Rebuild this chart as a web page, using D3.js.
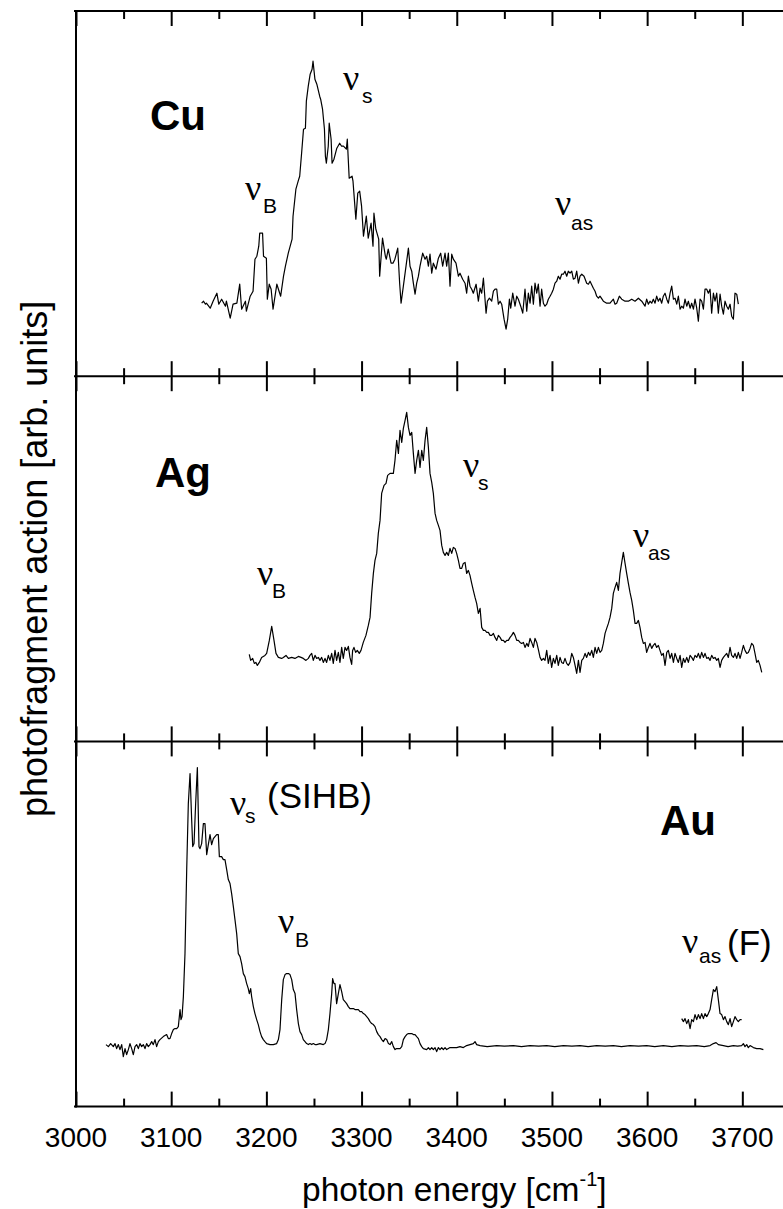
<!DOCTYPE html>
<html>
<head>
<meta charset="utf-8">
<script src="https://cdn.jsdelivr.net/npm/d3@7"></script>
<style>
  html, body { margin: 0; padding: 0; background: #fff; }
  svg { display: block; }
  text { font-family: "Liberation Sans", Arial, Helvetica, sans-serif; fill: #000; }
  .nu { font-family: "Liberation Serif", "Times New Roman", serif; }
</style>
</head>
<body>
<svg id="chart" width="783" height="1209"></svg>
<script>
// ---- data -------------------------------------------------------------
const tickLabels = [3000, 3100, 3200, 3300, 3400, 3500, 3600, 3700];
const panelNames = ["Cu", "Ag", "Au"];

// [photon energy (cm^-1), photofragment action (arb. units)]
const cuSpectrum = [
  [3132,7.3],[3134,7.5],[3136,7.2],[3137,7.3],[3141,6.8],[3144,7.5],[3148,8.3],[3150,7.2],[3153,7.7],[3157,7.0],
  [3158,7.5],[3162,5.8],[3165,7.2],[3169,7.3],[3172,9.2],[3174,6.7],[3178,7.5],[3179,6.5],[3183,8.0],[3186,8.5],
  [3188,11.7],[3190,12.0],[3192,13.0],[3193,14.3],[3196,14.3],[3197,12.0],[3200,11.8],[3201,7.7],[3203,9.2],[3205,8.7],
  [3207,6.7],[3211,9.2],[3214,8.3],[3215,8.0],[3218,10.0],[3220,11.0],[3223,12.3],[3227,13.7],[3228,16.0],[3231,18.7],
  [3234,19.7],[3235,20.0],[3237,22.3],[3239,24.7],[3241,24.8],[3242,27.5],[3244,29.0],[3246,30.2],[3248,30.7],[3249,31.5],
  [3251,29.7],[3253,29.2],[3256,28.0],[3257,27.7],[3259,26.7],[3261,24.7],[3262,22.0],[3263,21.3],[3265,23.0],[3266,25.3],
  [3268,23.7],[3269,21.3],[3271,21.7],[3274,22.8],[3277,23.3],[3279,23.0],[3281,23.0],[3284,22.7],[3285,23.7],[3287,19.8],
  [3290,20.0],[3291,19.5],[3294,15.7],[3296,18.3],[3298,18.5],[3300,17.0],[3302,14.0],[3305,16.0],[3307,13.8],[3310,15.3],
  [3312,13.0],[3313,16.3],[3315,14.7],[3318,13.7],[3319,10.0],[3322,13.8],[3325,12.0],[3326,11.7],[3328,12.7],[3331,11.3],
  [3333,11.3],[3335,11.7],[3338,12.8],[3340,9.3],[3341.5,7.3],[3343.9,9.0],[3346.7,11.0],[3349.2,12.8],[3350.9,11.0],[3352.7,10.5],
  [3354.4,9.3],[3356.2,8.2],[3357.9,9.3],[3359.7,10.0],[3361.4,11.0],[3364.2,12.3],[3366.7,11.7],[3368.4,12.0],[3370.2,11.0],[3371.9,12.2],
  [3373.7,10.3],[3375.4,11.3],[3378.2,10.7],[3380.7,11.8],[3383.1,12.3],[3385.2,11.0],[3387.7,12.3],[3389.4,11.0],[3391.2,12.3],[3392.9,9.0],
  [3394.7,12.2],[3396.4,11.7],[3399.2,11.3],[3401.7,10.0],[3403.4,10.3],[3406.2,9.7],[3408.7,9.3],[3410.4,8.3],[3412.2,10.0],[3413.9,9.0],
  [3415.7,8.7],[3417.4,8.3],[3420.3,9.2],[3422.7,7.5],[3424.5,8.8],[3426.2,8.3],[3428.0,9.8],[3430.8,6.3],[3432.2,7.5],[3434.3,7.8],
  [3436.7,7.5],[3438.5,8.5],[3440.2,8.7],[3442.0,8.7],[3443.7,7.2],[3445.5,7.5],[3447.2,7.2],[3449.7,5.7],[3451.8,4.7],[3453.5,5.7],
  [3455.3,7.7],[3456.7,6.8],[3458.8,8.3],[3461.2,7.0],[3463.0,8.0],[3464.7,7.7],[3467.2,7.0],[3469.3,6.3],[3471.7,8.7],[3473.5,6.5],
  [3475.2,8.3],[3477.0,7.3],[3478.7,9.0],[3480.5,7.2],[3482.2,9.3],[3484.0,8.3],[3485.7,9.2],[3487.5,7.0],[3489.2,8.7],[3491.0,7.3],
  [3492.7,7.0],[3494.5,7.2],[3496.2,7.7],[3498.0,8.0],[3499.7,8.3],[3501.5,8.7],[3503.2,9.3],[3505.0,9.5],[3506.7,10.0],[3508.5,9.7],
  [3510.2,10.2],[3512.0,10.2],[3513.7,10.5],[3515.5,10.0],[3517.2,10.5],[3519.0,10.3],[3520.8,10.5],[3522.5,9.7],[3524.3,9.8],[3526.0,10.5],
  [3527.8,9.3],[3529.5,10.0],[3531.3,10.2],[3533.7,10.0],[3536.5,9.3],[3538.3,9.2],[3540.0,9.5],[3543.5,8.8],[3545.3,8.5],[3547.0,8.0],
  [3548.8,7.8],[3550.5,8.0],[3554.0,7.5],[3557.5,7.3],[3561.0,7.3],[3564.5,7.7],[3566.3,7.2],[3568.0,7.3],[3570.8,8.0],[3573.3,7.7],
  [3576.8,7.5],[3580.3,7.5],[3583.8,7.7],[3587.3,7.5],[3590.8,7.8],[3594.3,7.5],[3597.8,7.0],[3599.5,7.7],[3601.3,7.2],[3603.0,7.5],
  [3604.8,7.3],[3606.5,7.7],[3608.3,7.3],[3610.0,8.0],[3611.8,7.5],[3613.5,7.8],[3615.3,7.3],[3617.0,8.0],[3618.8,8.3],[3620.6,7.7],
  [3622.3,7.3],[3624.1,8.3],[3625.8,9.0],[3627.6,7.7],[3629.3,7.8],[3631.1,7.2],[3632.8,8.0],[3634.6,6.7],[3636.3,7.0],[3638.1,6.8],
  [3639.8,7.7],[3641.6,7.0],[3643.3,7.5],[3645.1,6.8],[3646.8,7.3],[3648.6,6.7],[3650.3,7.7],[3652.1,6.8],[3653.8,5.5],[3655.6,7.7],
  [3657.3,7.5],[3659.1,6.7],[3660.8,8.7],[3662.6,8.7],[3664.3,8.3],[3666.1,8.7],[3667.8,6.3],[3669.6,8.3],[3671.3,7.5],[3673.1,8.3],
  [3674.8,6.3],[3676.6,8.2],[3678.3,7.0],[3680.1,6.2],[3681.8,7.5],[3683.6,7.0],[3685.3,6.7],[3687.1,7.2],[3688.8,6.0],[3690.6,5.7],
  [3692.3,8.3],[3694.1,8.2],[3695.8,7.2]
];

const agSpectrum = [
  [3182,8.7],[3183.5,8.1],[3185.6,8.3],[3187.3,7.8],[3189,7.9],[3190.5,7.6],[3192.6,7.9],[3195,8.4],[3198.5,8.6],[3200.3,8.8],
  [3203.1,10.1],[3205.6,11.5],[3208,10.1],[3210.1,8.8],[3212.6,8.4],[3216,8.3],[3217.8,8.4],[3220.6,8.6],[3223.1,8.3],[3226.6,8.4],
  [3230,8.3],[3233.6,8.5],[3236.4,8.4],[3238.8,8.3],[3241.6,8.1],[3244.1,8.3],[3245.8,8.6],[3247.6,8.8],[3249.3,8.1],[3251.1,8.6],
  [3252.8,8.3],[3254.6,8.4],[3256.3,8.1],[3258.1,8.4],[3259.8,7.9],[3261.6,8.3],[3263.3,7.9],[3265.1,8.6],[3266.8,8.1],[3268.6,8.8],
  [3270.3,7.8],[3272.1,9.1],[3273.8,8.1],[3275.6,8.9],[3277.3,7.9],[3279.1,9.4],[3280.8,8.3],[3282.6,9.4],[3284.3,9.1],[3286.1,9.5],
  [3287.8,8.4],[3289.6,7.7],[3290.6,9.1],[3292,9.4],[3293.8,8.9],[3295.5,9.1],[3297.6,8.8],[3299.4,9.1],[3301.8,9.9],[3304.6,10.6],
  [3307.1,11.6],[3308.9,12.4],[3310.6,14.8],[3312.4,16.8],[3314.1,18.1],[3315.9,18.8],[3317.6,20.8],[3319.4,22.1],[3321.1,24.8],[3323.6,25.6],
  [3325.7,25.8],[3327.4,26.6],[3329.9,26.8],[3333.4,26.8],[3335.1,28.1],[3336.9,30.1],[3338.7,28.8],[3340.4,31.1],[3342.2,29.9],[3343.9,31.3],
  [3345.7,32.1],[3347.4,32.9],[3349.2,31.4],[3350.9,30.6],[3352.7,30.9],[3354.4,28.8],[3356.2,26.8],[3357.9,28.1],[3359.7,29.1],[3361.4,27.4],
  [3363.2,29.1],[3364.9,28.1],[3366.7,30.1],[3368.4,31.4],[3370.2,29.4],[3371.9,26.8],[3373.7,25.9],[3375.4,24.8],[3377.2,22.8],[3378.9,22.1],
  [3380.7,21.6],[3382.4,21.1],[3384.2,19.6],[3385.9,18.9],[3387.7,18.6],[3389.4,18.9],[3391.2,18.6],[3392.9,19.3],[3394.7,18.8],[3396.4,19.4],
  [3398.2,19.3],[3399.9,18.8],[3401.7,18.1],[3403.4,17.3],[3405.2,17.3],[3406.9,17.8],[3408.7,17.9],[3410.4,16.8],[3412.2,17.1],[3413.9,16.6],
  [3415.7,15.8],[3417.4,15.1],[3419.2,14.4],[3420.9,13.8],[3422.7,12.8],[3424.5,13.3],[3426.2,11.4],[3428.0,11.1],[3429.7,11.1],[3431.5,10.9],
  [3433.2,10.9],[3435.0,10.6],[3436.7,10.6],[3438.5,10.8],[3440.2,10.4],[3442.0,10.1],[3443.7,10.6],[3445.5,10.4],[3447.2,10.1],[3449.0,10.1],
  [3450.7,9.9],[3452.5,10.1],[3454.2,10.1],[3456.0,10.4],[3457.7,10.6],[3459.5,10.9],[3461.2,10.6],[3463.0,10.1],[3464.7,10.1],[3466.5,9.9],
  [3468.2,9.8],[3470.0,9.9],[3471.7,9.4],[3473.5,9.8],[3475.2,9.5],[3477.0,10.3],[3478.7,9.9],[3480.5,9.4],[3482.2,10.3],[3484.0,9.9],
  [3485.7,9.2],[3487.5,8.4],[3489.2,8.1],[3491.0,8.3],[3492.7,8.1],[3494.5,9.1],[3496.2,7.8],[3498.0,8.6],[3499.7,7.4],[3501.5,8.3],
  [3503.2,7.8],[3505.0,8.6],[3506.7,7.6],[3508.5,8.4],[3510.2,7.9],[3512.0,7.8],[3513.7,8.3],[3515.5,7.8],[3517.2,7.6],[3519.0,7.9],
  [3520.8,8.8],[3522.5,8.4],[3524.3,7.6],[3526.0,6.8],[3527.8,8.1],[3529.5,6.9],[3531.3,8.1],[3533.0,8.3],[3534.8,8.8],[3536.5,8.4],
  [3538.3,8.9],[3540.0,8.6],[3541.8,9.1],[3543.5,8.4],[3545.3,9.4],[3547.0,8.8],[3548.8,9.4],[3550.5,8.9],[3552.3,9.1],[3554.0,9.8],
  [3555.8,10.8],[3557.5,11.3],[3559.3,11.8],[3561.0,12.4],[3562.8,13.3],[3564.5,14.8],[3566.3,15.4],[3568.0,15.9],[3569.8,15.1],[3571.5,16.8],
  [3573.3,17.9],[3575.0,18.9],[3576.8,17.8],[3578.5,16.8],[3580.3,15.8],[3582.0,14.9],[3583.8,14.1],[3585.5,13.1],[3587.3,11.8],[3589.0,11.8],
  [3590.8,12.1],[3592.5,11.4],[3594.3,10.4],[3596.0,9.8],[3597.8,9.9],[3599.5,8.9],[3601.3,9.4],[3603.0,9.8],[3604.8,9.3],[3606.5,9.6],
  [3608.3,9.8],[3610.0,9.4],[3611.8,9.6],[3613.5,9.1],[3615.3,8.6],[3617.0,8.8],[3618.8,7.6],[3620.6,8.9],[3622.3,9.1],[3624.1,8.3],
  [3625.8,8.8],[3627.6,7.9],[3629.3,8.8],[3631.1,8.3],[3632.8,7.9],[3634.6,8.6],[3636.3,7.4],[3638.1,8.3],[3639.8,7.9],[3641.6,8.4],
  [3643.3,7.9],[3645.1,8.6],[3646.8,8.4],[3648.6,8.1],[3650.3,8.6],[3652.1,8.4],[3653.8,8.8],[3655.6,8.3],[3657.3,8.9],[3659.1,8.4],
  [3660.8,8.8],[3662.6,8.3],[3664.3,8.4],[3666.1,8.1],[3667.8,8.6],[3669.6,8.3],[3671.3,8.4],[3673.1,8.1],[3674.8,8.3],[3676.6,7.4],
  [3678.3,8.1],[3680.1,8.4],[3681.8,8.6],[3683.6,8.8],[3685.3,8.4],[3687.1,9.4],[3688.8,8.6],[3690.6,8.4],[3692.3,8.8],[3694.1,8.3],
  [3695.8,8.9],[3697.6,8.3],[3699.3,8.9],[3701.1,9.6],[3702.8,9.1],[3704.6,8.8],[3706.3,8.9],[3708.1,9.3],[3709.8,9.8],[3711.6,9.6],
  [3713.3,8.8],[3715.1,7.9],[3716.8,8.1],[3718.6,7.6],[3720.4,6.9]
];

const auSpectrum = [
  [3031.5,6.2],[3034,6.0],[3036.4,6.3],[3039.2,6.0],[3041,6.3],[3042.7,5.8],[3044.5,6.2],[3046.2,5.7],[3048,6.2],[3049.7,5.0],
  [3051.5,5.8],[3053.2,5.2],[3055,5.7],[3056.7,6.3],[3058.5,5.8],[3060.2,5.2],[3062,6.0],[3063.7,6.2],[3065.5,5.8],[3067.2,6.3],
  [3069,6.0],[3070.7,6.2],[3072.5,5.8],[3074.2,6.3],[3076,6.0],[3077.7,6.2],[3079.5,6.5],[3081.2,6.2],[3083,6.7],[3084.7,6.0],
  [3086.5,6.5],[3088.2,6.7],[3091.7,7.0],[3095.2,7.2],[3097,6.8],[3098.7,6.8],[3100.5,7.3],[3102.3,7.7],[3104,7.8],[3105.8,7.8],
  [3107.5,8.0],[3109.3,9.7],[3110.3,8.7],[3111.4,9.0],[3112.8,11.0],[3114.5,15.3],[3116.3,23.7],[3118,30.3],[3119.8,33.3],[3121.5,28.7],
  [3122.6,26.0],[3124,26.3],[3125.7,30.3],[3127.5,33.9],[3129.2,26.0],[3130.3,25.8],[3132,26.3],[3133.8,28.3],[3135.5,28.3],[3137.3,25.2],
  [3139,26.2],[3140.8,27.2],[3142.5,26.2],[3144.3,26.8],[3146,27.0],[3147.8,27.2],[3149.5,27.2],[3150.6,25.0],[3153,25.0],[3154.8,24.7],
  [3156.5,24.7],[3158.3,23.7],[3160,22.7],[3161.8,22.3],[3163.5,21.3],[3165.3,20.0],[3167,18.7],[3168.8,17.3],[3170.5,15.3],[3172.3,15.0],
  [3174,14.3],[3175.8,13.3],[3177.5,13.0],[3179.3,12.3],[3181,11.8],[3182.1,11.3],[3183.5,11.8],[3184.5,11.0],[3186.3,10.0],[3188,9.3],
  [3189.8,8.7],[3191.5,8.2],[3193.3,7.5],[3195,7.0],[3196.8,6.7],[3198.5,6.5],[3200.3,6.3],[3203.8,6.2],[3207.3,6.2],[3210.8,6.3],
  [3212.6,6.7],[3214.3,7.7],[3216.1,10.7],[3217.8,12.7],[3219.6,13.2],[3221.3,13.3],[3223.1,13.3],[3224.8,13.2],[3226.6,12.7],[3228.3,11.7],
  [3230.1,11.3],[3231.8,9.7],[3233.6,8.3],[3235.3,7.5],[3237.1,7.2],[3238.8,6.7],[3240.6,6.5],[3242.3,6.3],[3244.1,6.2],[3245.8,6.3],
  [3247.6,6.2],[3249.3,6.3],[3251.1,6.2],[3252.8,6.2],[3256.3,6.3],[3259.8,6.2],[3261.6,6.3],[3263.3,6.7],[3265.1,7.7],[3266.8,9.3],
  [3268.6,11.3],[3269.6,12.8],[3271,12.3],[3272.1,12.3],[3273.8,10.3],[3275.6,11.3],[3277.3,12.2],[3279.1,11.5],[3280.8,10.7],[3282.6,10.5],
  [3284.3,10.3],[3286.1,10.0],[3287.8,9.8],[3289.6,9.8],[3291.3,9.8],[3293.1,9.7],[3294.8,9.7],[3296.6,9.7],[3298.4,9.5],[3300.1,9.5],
  [3301.9,9.3],[3303.6,9.2],[3305.4,9.0],[3307.1,8.8],[3308.9,8.5],[3310.6,8.3],[3312.4,8.2],[3314.1,8.0],[3315.9,7.5],[3317.6,7.2],
  [3319.4,7.0],[3321.2,6.7],[3322.9,6.5],[3324.7,6.8],[3326.4,6.7],[3328.2,6.3],[3329.9,6.2],[3331.7,6.5],[3333.4,6.0],[3335.2,5.7],
  [3336.9,5.8],[3340.4,5.8],[3342.2,6.0],[3343.9,6.7],[3345.7,7.0],[3347.4,7.2],[3349.2,7.3],[3352.7,7.3],[3354.4,7.2],[3356.2,7.2],
  [3357.9,7.0],[3359.7,6.8],[3361.4,6.3],[3363.2,6.0],[3364.9,5.8],[3368.4,5.7],[3370.2,5.9],[3371.9,5.7],[3373.7,5.9],[3375.4,5.7],
  [3377.2,5.9],[3378.9,5.5],[3380.7,5.9],[3382.4,5.7],[3384.2,5.9],[3385.9,5.7],[3387.7,5.9],[3389.4,5.7],[3392.9,5.9],[3396.4,5.9],
  [3399.9,5.9],[3403.4,6.0],[3406.9,5.9],[3410.4,6.1],[3413.9,6.2],[3417.4,6.3],[3419.2,6.5],[3420.9,6.2],[3424.5,6.1],[3432,6.0],
  [3442,6.1],[3450,6.05],[3459.5,6.1],[3468,6.0],[3477,6.1],[3486,6.05],[3494.5,6.1],[3503,6.0],[3512,6.1],[3521,6.05],
  [3529.5,6.1],[3538,6.0],[3547,6.1],[3556,6.05],[3564.5,6.1],[3573,6.0],[3582,6.1],[3591,6.05],[3599.5,6.1],[3608,6.0],
  [3617,6.1],[3626,6.0],[3634.6,6.1],[3643,6.05],[3652.1,6.1],[3660,6.0],[3666.1,6.1],[3669.6,6.3],[3672.4,6.4],[3674.8,6.2],
  [3680.1,6.1],[3685,6.0],[3690.6,6.1],[3695,6.05],[3699.3,6.1],[3701.1,6.3],[3702.8,6.0],[3704.6,6.2],[3706.3,5.9],[3708.1,6.1],
  [3711.6,5.9],[3715.1,5.8],[3718.6,5.8],[3722.1,5.7]
];

// Au: nu_as region recorded with higher gain (offset trace)
const auInsetSpectrum = [
  [3636.3,8.8],[3638.1,8.5],[3639.8,8.8],[3641.6,8.3],[3643.3,8.7],[3645.1,7.8],[3646.8,8.7],[3648.6,8.5],[3650.3,9.2],[3652.1,8.7],
  [3653.8,9.2],[3655.6,8.8],[3657.3,9.3],[3659.1,8.8],[3660.8,9.3],[3662.6,9.0],[3664.3,9.3],[3666.1,9.7],[3667.8,10.7],[3669.6,11.7],
  [3671.3,11.5],[3673.1,12.0],[3674.8,10.7],[3676.6,9.3],[3678.3,9.2],[3680.1,8.7],[3681.8,9.0],[3683.6,8.5],[3685.3,8.2],[3687.1,8.8],
  [3688.8,8.0],[3690.6,8.5],[3692.3,9.0],[3694.1,8.7],[3695.8,8.5],[3697.6,8.7],[3699.3,8.7]
];

const panelSeries = [[cuSpectrum], [agSpectrum], [auSpectrum, auInsetSpectrum]];

// ---- layout ------------------------------------------------------------
const svg = d3.select("#chart");
const left = 76, panelTop = 11, panelH = 365.2;
const xMin = 3000, xMax = 3750;
const x = d3.scaleLinear().domain([xMin, xMax]).range([left, left + (xMax - xMin) * 0.9519]);
const y = d3.scaleLinear().domain([0, 36.52]).range([panelH, 0]);
const right = x(xMax);

const majorTicks = d3.range(3000, 3751, 100);
const minorTicks = d3.range(3050, 3751, 100);

const line = d3.line().x(d => x(d[0])).y(d => y(d[1]));

panelNames.forEach((name, i) => {
  const g = svg.append("g").attr("transform", `translate(0,${panelTop + i * panelH})`);

  // tick marks pointing inward on the top and bottom edge of each panel
  const addTicks = (axisFn, values, size, yPos) => {
    const a = g.append("g").attr("transform", `translate(0,${yPos})`)
      .call(axisFn(x).tickValues(values).tickSize(size).tickFormat(""));
    a.select(".domain").remove();
    a.selectAll(".tick line").attr("stroke", "#000").attr("stroke-width", 2);
  };
  addTicks(d3.axisBottom, majorTicks, 15, 0);
  addTicks(d3.axisBottom, minorTicks, 8, 0);
  addTicks(d3.axisTop, majorTicks, 15, panelH);
  addTicks(d3.axisTop, minorTicks, 8, panelH);

  panelSeries[i].forEach(series => {
    g.append("path").datum(series)
      .attr("d", line)
      .attr("fill", "none")
      .attr("stroke", "#000")
      .attr("stroke-width", 1.2)
      .attr("stroke-linejoin", "round");
  });
});

// frame: horizontal panel edges and the left axis line
const edges = d3.range(0, 4).map(k => panelTop + k * panelH);
svg.selectAll("line.edge").data(edges).enter().append("line")
  .attr("class", "edge")
  .attr("x1", left - 2).attr("x2", right)
  .attr("y1", d => d).attr("y2", d => d)
  .attr("stroke", "#000").attr("stroke-width", 2);
svg.append("line")
  .attr("x1", left).attr("x2", left)
  .attr("y1", panelTop - 1).attr("y2", panelTop + 3 * panelH + 1)
  .attr("stroke", "#000").attr("stroke-width", 2);

// x tick labels (bottom panel only)
svg.selectAll("text.tick-label").data(tickLabels).enter().append("text")
  .attr("class", "tick-label")
  .attr("x", d => x(d)).attr("y", 1147)
  .attr("text-anchor", "middle")
  .attr("font-size", 28)
  .text(d => d);

// axis titles
const xt = svg.append("text")
  .attr("x", 302).attr("y", 1201)
  .attr("font-size", 33.5);
xt.append("tspan").text("photon energy [cm");
xt.append("tspan").attr("font-size", 20).attr("dy", -15).text("-1");
xt.append("tspan").attr("dy", 15).text("]");

svg.append("text")
  .attr("transform", `translate(47,${panelTop + 1.5 * panelH}) rotate(-90)`)
  .attr("text-anchor", "middle")
  .attr("font-size", 36)
  .text("photofragment action [arb. units]");

// metal labels
const metalLabels = [
  { text: "Cu", x: 150, y: 130 },
  { text: "Ag", x: 155, y: 487 },
  { text: "Au", x: 660, y: 835 }
];
svg.selectAll("text.metal").data(metalLabels).enter().append("text")
  .attr("class", "metal")
  .attr("x", d => d.x).attr("y", d => d.y)
  .attr("font-size", 42).attr("font-weight", "bold")
  .text(d => d.text);

// band assignments
const bands = [
  { x: 245, y: 200, sub: "B",  sx: 263, sy: 213 },
  { x: 343, y: 90,  sub: "s",  sx: 362, sy: 103 },
  { x: 555, y: 215, sub: "as", sx: 571, sy: 230 },
  { x: 257, y: 585, sub: "B",  sx: 272, sy: 598 },
  { x: 463, y: 477, sub: "s",  sx: 478, sy: 490 },
  { x: 633, y: 547, sub: "as", sx: 648, sy: 560 },
  { x: 230, y: 815, sub: "s",  sx: 245, sy: 823, tag: "(SIHB)", tx: 267, ty: 808 },
  { x: 278, y: 933, sub: "B",  sx: 295, sy: 947 },
  { x: 682, y: 953, sub: "as", sx: 699, sy: 963, tag: "(F)", tx: 727, ty: 955 }
];
bands.forEach(b => {
  svg.append("text").attr("class", "nu").attr("x", b.x).attr("y", b.y)
    .attr("font-size", 36).text("ν");
  svg.append("text").attr("x", b.sx).attr("y", b.sy)
    .attr("font-size", 21).text(b.sub);
  if (b.tag) {
    svg.append("text").attr("x", b.tx).attr("y", b.ty)
      .attr("font-size", 35).text(b.tag);
  }
});
</script>
</body>
</html>
